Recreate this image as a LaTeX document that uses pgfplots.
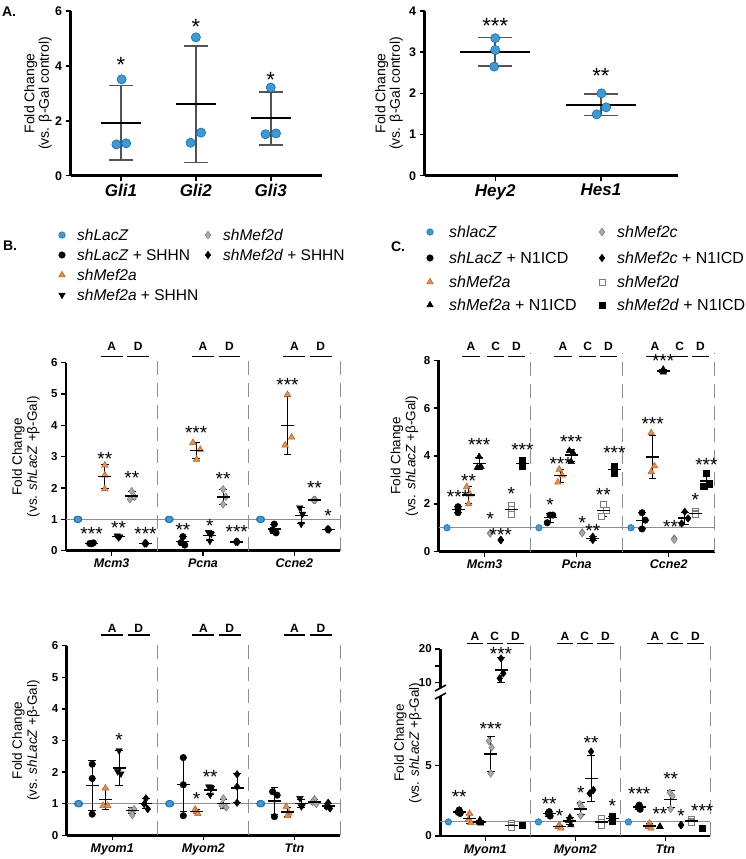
\documentclass[border=0pt]{standalone}
\usepackage{pgfplots}
\pgfplotsset{compat=1.18}
\usepackage{fontspec}
\setmainfont{Liberation Sans}

\definecolor{cblue}{HTML}{3A9BDA}
\definecolor{cblueE}{HTML}{1E6BA6}
\definecolor{corange}{HTML}{EE8B47}
\definecolor{corangeE}{HTML}{B5601F}
\definecolor{cgray}{HTML}{A9A9A9}
\definecolor{cgrayE}{HTML}{7B7B7B}
\definecolor{cref}{HTML}{8E8E8E}

\newcommand\ftick{\fontsize{11.5}{12}\selectfont\bfseries}
\newcommand\ftickA{\fontsize{12.5}{13}\selectfont\bfseries}
\newcommand\fgene{\fontsize{12.5}{13}\selectfont\bfseries\itshape}
\newcommand\fgeneA{\fontsize{17}{17}\selectfont\bfseries\itshape}
\newcommand\flab{\fontsize{13.5}{15}\selectfont}
\newcommand\flabA{\fontsize{14}{14.5}\selectfont}
\newcommand\fstar{\fontsize{19}{19}\selectfont}
\newcommand\fstarA{\fontsize{22}{22}\selectfont}
\newcommand\flet{\fontsize{12}{12}\selectfont\bfseries}

\tikzset{sepline/.style={cref, line width=1pt, dash pattern=on 14pt off 8pt}}

\pgfplotsset{
  panel/.style={scale only axis, clip=false,
    axis x line=bottom, axis y line=left,
    axis line style={-, line width=2.6pt},
    tick style={black, line width=1.5pt},
    major tick length=5pt, tick align=outside,
    /pgf/number format/assume math mode=true,
    yticklabel style={font=\ftick},
    xticklabel style={font=\fgene},
    ylabel style={font=\flab, align=center, anchor=center},
    xmin=0.5, xmax=3.5, xtick={1,2,3}},
  ptBlue/.style={only marks, mark=*, mark size=3.3pt, mark options={fill=cblue, draw=cblueE, line width=0.5pt}},
  ptBlack/.style={only marks, mark=*, mark size=3.3pt, mark options={fill=black, draw=black}},
  ptOrange/.style={only marks, mark=triangle*, mark size=3.8pt, mark options={fill=corange, draw=corangeE, line width=0.5pt}},
  ptTri/.style={only marks, mark=triangle*, mark size=3.8pt, mark options={fill=black, draw=black}},
  ptInv/.style={only marks, mark=triangle*, mark size=3.8pt, mark options={fill=black, draw=black, rotate=180}},
  ptGray/.style={only marks, mark=diamond*, mark size=3.8pt, mark options={fill=cgray, draw=cgrayE, line width=0.5pt}},
  ptDia/.style={only marks, mark=diamond*, mark size=3.8pt, mark options={fill=black, draw=black}},
  ptOpen/.style={only marks, mark=square*, mark size=3.1pt, mark options={fill=white, draw=cgrayE, line width=0.8pt}},
  ptSq/.style={only marks, mark=square*, mark size=3.1pt, mark options={fill=black, draw=black}},
  msd/.style={only marks, mark=-, mark size=6.5pt, mark options={line width=1.4pt, black},
    error bars/y dir=both, error bars/y explicit,
    error bars/error bar style={line width=0.9pt, black},
    error bars/error mark options={rotate=90, mark size=3.8pt, line width=0.9pt, black}},
  stars/.style={draw=none, mark=none, nodes near coords, point meta=explicit symbolic,
    nodes near coords style={font=\fstar, anchor=center, inner sep=0pt, yshift=-0.2em}},
  refline/.style={cref, line width=0.9pt},
}

\begin{document}
\begin{tikzpicture}
\path[use as bounding box] (0pt,0pt) rectangle (745pt,-859pt);

% ---------- A left ----------
\begin{axis}[panel, at={(70.7pt,-175.7pt)}, anchor=south west, width=251pt, height=164.7pt,
  xmin=0.33, xmax=3.68, ymin=0, ymax=6, ytick={0,2,4,6},
  xticklabels={Gli1,Gli2,Gli3},
  yticklabel style={font=\ftickA}, xticklabel style={font=\fgeneA},
  ylabel={Fold Change\\(vs. β-Gal control)},
  ylabel style={font=\flabA, at={(axis description cs:-0.13,0.5)}}]
\addplot[only marks, mark=-, mark size=20pt, mark options={line width=2pt, black},
  error bars/y dir=both, error bars/y explicit,
  error bars/error bar style={line width=1.6pt, gray!65!black},
  error bars/error mark options={rotate=90, mark size=12pt, line width=1.6pt, gray!65!black}]
  coordinates {(1,1.93) +- (0,1.36) (2,2.6) +- (0,2.12) (3,2.09) +- (0,0.97)};
\addplot[only marks, mark=*, mark size=4.6pt, mark options={fill=cblue, draw=cblueE, line width=0.6pt}]
  coordinates {(0.94,1.14) (1.07,1.18) (1.01,3.51) (1.93,1.2) (2.07,1.57) (2.0,5.04) (2.93,1.51) (3.07,1.54) (3.0,3.21)};
\addplot[stars, nodes near coords style={font=\fstarA}] coordinates {(1,4.1)[*] (2,5.49)[*] (3,3.57)[*]};
\end{axis}

% ---------- A right ----------
\begin{axis}[panel, at={(424.7pt,-175.7pt)}, anchor=south west, width=253.3pt, height=164.7pt,
  xmin=0.332, xmax=2.73, ymin=0, ymax=4, ytick={0,1,2,3,4}, xtick={1,2},
  xticklabels={Hey2,Hes1},
  yticklabel style={font=\ftickA}, xticklabel style={font=\fgeneA},
  ylabel={Fold Change\\(vs. β-Gal control)},
  ylabel style={font=\flabA, at={(axis description cs:-0.141,0.5)}}]
\addplot[only marks, mark=-, mark size=35pt, mark options={line width=2pt, black},
  error bars/y dir=both, error bars/y explicit,
  error bars/error bar style={line width=1.6pt, gray!65!black},
  error bars/error mark options={rotate=90, mark size=17pt, line width=1.6pt, gray!65!black}]
  coordinates {(1,3.01) +- (0,0.345) (2,1.72) +- (0,0.26)};
\addplot[only marks, mark=*, mark size=4.6pt, mark options={fill=cblue, draw=cblueE, line width=0.6pt}]
  coordinates {(1,3.34) (1,3.05) (0.99,2.65) (2.005,2.0) (2.05,1.66) (1.96,1.49)};
\addplot[stars, nodes near coords style={font=\fstarA}] coordinates {(1,3.68)[***] (2,2.47)[**]};
\end{axis}

% ---------- B top ----------
\begin{axis}[panel, at={(66pt,-550.7pt)}, anchor=south west, width=274pt, height=188pt,
  ymin=0, ymax=6, ytick={0,...,6}, xticklabels={Mcm3,Pcna,Ccne2},
  ylabel={Fold Change\\(vs. \textit{shLacZ} +β-Gal)},
  ylabel style={at={(axis description cs:-0.146,0.5)}}]
\pgfplotsinvokeforeach{1.5,2.5,3.5}{\draw[sepline] (axis cs:#1,0) -- (axis cs:#1,6.3);}
\pgfplotsinvokeforeach{1,2,3}{
  \node[font=\flet] at (axis cs:#1,6.51) {A};
  \node[font=\flet] at (axis cs:#1+0.29,6.51) {D};
  \draw[line width=1.3pt] (axis cs:#1-0.12,6.19) -- (axis cs:#1+0.12,6.19);
  \draw[line width=1.3pt] (axis cs:#1+0.17,6.19) -- (axis cs:#1+0.41,6.19);}
\addplot[refline] coordinates {(0.5,1) (3.5,1)};
\addplot[ptBlue] coordinates {(0.62,1) (0.64,1) (0.63,1) (1.62,1) (1.64,1) (1.63,1) (2.62,1) (2.64,1) (2.63,1)};
\addplot[ptBlack] coordinates {(0.76,0.23) (0.8,0.25) (0.78,0.22) (1.78,0.45) (1.76,0.26) (1.8,0.18) (2.78,0.85) (2.76,0.66) (2.8,0.57)};
\addplot[ptOrange] coordinates {(0.925,2.73) (0.925,2.41) (0.925,1.97) (1.89,3.45) (1.97,3.23) (1.93,2.91) (2.925,4.98) (2.97,3.62) (2.9,3.37)};
\addplot[ptInv] coordinates {(1.06,0.48) (1.09,0.45) (1.075,0.42) (2.06,0.59) (2.09,0.53) (2.075,0.31) (3.06,1.37) (3.09,1.17) (3.075,0.85)};
\addplot[ptGray] coordinates {(1.22,1.9) (1.2,1.64) (1.25,1.72) (2.22,1.96) (2.25,1.72) (2.22,1.48) (3.21,1.62) (3.23,1.62) (3.22,1.62)};
\addplot[ptDia] coordinates {(1.36,0.23) (1.38,0.23) (1.37,0.24) (2.36,0.28) (2.38,0.28) (2.37,0.29) (3.36,0.68) (3.38,0.67) (3.37,0.69)};
\addplot[msd] coordinates {(0.78,0.23) +- (0,0.02) (1.78,0.3) +- (0,0.14) (2.78,0.69) +- (0,0.14)
  (0.925,2.37) +- (0,0.38) (1.925,3.2) +- (0,0.27) (2.925,3.99) +- (0,0.93)
  (1.075,0.45) +- (0,0.03) (2.075,0.48) +- (0,0.15) (3.075,1.13) +- (0,0.26)
  (1.22,1.75) +- (0,0.13) (2.22,1.72) +- (0,0.24) (3.22,1.62) +- (0,0.02)
  (1.37,0.23) +- (0,0.01) (2.37,0.28) +- (0,0.01) (3.37,0.68) +- (0,0.01)};
\addplot[stars] coordinates {(0.78,0.6)[***] (0.925,3.0)[**] (1.075,0.8)[**] (1.22,2.39)[**] (1.37,0.6)[***]
  (1.78,0.74)[**] (1.925,3.82)[***] (2.075,0.85)[*] (2.22,2.34)[**] (2.37,0.66)[***]
  (2.925,5.34)[***] (3.22,2.06)[**] (3.37,1.17)[*]};
\end{axis}

% ---------- B bottom ----------
\begin{axis}[panel, at={(66.7pt,-835.3pt)}, anchor=south west, width=273.3pt, height=189.6pt,
  ymin=0, ymax=6, ytick={0,...,6}, xticklabels={Myom1,Myom2,Ttn},
  ylabel={Fold Change\\(vs. \textit{shLacZ} +β-Gal)},
  ylabel style={at={(axis description cs:-0.149,0.5)}}]
\pgfplotsinvokeforeach{1.5,2.5,3.5}{\draw[sepline] (axis cs:#1,0) -- (axis cs:#1,6.2);}
\pgfplotsinvokeforeach{1,2,3}{
  \node[font=\flet] at (axis cs:#1,6.55) {A};
  \node[font=\flet] at (axis cs:#1+0.29,6.55) {D};
  \draw[line width=1.3pt] (axis cs:#1-0.12,6.34) -- (axis cs:#1+0.12,6.34);
  \draw[line width=1.3pt] (axis cs:#1+0.17,6.34) -- (axis cs:#1+0.41,6.34);}
\addplot[refline] coordinates {(0.5,1) (3.5,1)};
\addplot[ptBlue] coordinates {(0.62,1) (0.64,1) (0.63,1) (1.62,1) (1.64,1) (1.63,1) (2.62,1) (2.64,1) (2.63,1)};
\addplot[ptBlack] coordinates {(0.78,2.25) (0.78,1.8) (0.78,0.67) (1.78,2.46) (1.78,1.6) (1.78,0.62) (2.76,1.38) (2.81,1.27) (2.78,0.59)};
\addplot[ptOrange] coordinates {(0.925,1.49) (0.9,0.94) (0.95,0.94) (1.91,0.82) (1.925,0.75) (1.94,0.68) (2.91,0.91) (2.94,0.7) (2.925,0.62)};
\addplot[ptInv] coordinates {(1.075,2.68) (1.06,2.02) (1.095,1.95) (2.06,1.54) (2.09,1.5) (2.075,1.28) (3.06,1.17) (3.09,0.96) (3.075,0.91)};
\addplot[ptGray] coordinates {(1.24,0.83) (1.2,0.78) (1.22,0.64) (2.22,1.17) (2.2,0.96) (2.25,0.88) (3.22,1.14) (3.2,1.06) (3.24,0.99)};
\addplot[ptDia] coordinates {(1.37,1.17) (1.35,0.99) (1.39,0.83) (2.37,1.93) (2.37,1.54) (2.37,1.03) (3.37,1.03) (3.35,0.91) (3.39,0.85)};
\addplot[msd] coordinates {(0.78,1.57) +- (0,0.79) (1.78,1.6) +- (0,0.86) (2.78,1.08) +- (0,0.43)
  (0.925,1.13) +- (0,0.32) (1.925,0.75) +- (0,0.07) (2.925,0.74) +- (0,0.15)
  (1.075,2.13) +- (0,0.55) (2.075,1.44) +- (0,0.14) (3.075,1.01) +- (0,0.14)
  (1.22,0.78) +- (0,0.1) (2.22,1.0) +- (0,0.15) (3.22,1.06) +- (0,0.08)
  (1.37,1.01) +- (0,0.17) (2.37,1.5) +- (0,0.45) (3.37,0.93) +- (0,0.09)};
\addplot[stars] coordinates {(1.075,3.07)[*] (1.925,1.22)[*] (2.075,1.9)[**]};
\end{axis}

% ---------- C top ----------
\begin{axis}[panel, at={(438.7pt,-551.7pt)}, anchor=south west, width=276pt, height=191.4pt,
  ymin=0, ymax=8, ytick={0,2,4,6,8}, xticklabels={Mcm3,Pcna,Ccne2},
  ylabel={Fold Change\\(vs. \textit{shLacZ} +β-Gal)},
  ylabel style={at={(axis description cs:-0.124,0.5)}}]
\pgfplotsinvokeforeach{1.5,2.5,3.5}{\draw[sepline] (axis cs:#1,0) -- (axis cs:#1,8.3);}
\pgfplotsinvokeforeach{1,2,3}{
  \node[font=\flet] at (axis cs:#1-0.15,8.57) {A};
  \node[font=\flet] at (axis cs:#1+0.12,8.57) {C};
  \node[font=\flet] at (axis cs:#1+0.345,8.57) {D};
  \draw[line width=1.3pt] (axis cs:#1-0.245,8.15) -- (axis cs:#1-0.055,8.15);
  \draw[line width=1.3pt] (axis cs:#1+0.025,8.15) -- (axis cs:#1+0.215,8.15);
  \draw[line width=1.3pt] (axis cs:#1+0.25,8.15) -- (axis cs:#1+0.44,8.15);}
\addplot[refline] coordinates {(0.5,1) (3.5,1)};
\addplot[ptBlue] coordinates {(0.59,1) (1.59,1) (2.59,1)};
\addplot[ptBlack] coordinates {(0.71,1.88) (0.71,1.78) (0.71,1.63) (1.68,1.21) (1.71,1.53) (1.74,1.53) (2.71,1.63) (2.71,0.95) (2.745,1.32)};
\addplot[ptOrange] coordinates {(0.805,2.72) (0.84,2.4) (0.825,1.99) (1.81,3.44) (1.84,3.2) (1.795,2.9) (2.81,4.97) (2.81,3.34) (2.845,3.58)};
\addplot[ptTri] coordinates {(0.94,3.97) (0.92,3.52) (0.96,3.55) (1.92,4.22) (1.96,4.14) (1.94,3.76) (2.94,7.62) (2.94,7.55) (2.94,7.5)};
\addplot[ptGray] coordinates {(1.06,0.77) (1.06,0.78) (1.06,0.76) (2.06,0.79) (2.06,0.8) (2.06,0.78) (3.06,0.55) (3.06,0.53) (3.06,0.5)};
\addplot[ptDia] coordinates {(1.175,0.49) (1.175,0.48) (1.175,0.5) (2.175,0.63) (2.175,0.55) (2.175,0.49) (3.14,1.18) (3.175,1.67) (3.21,1.39)};
\addplot[ptOpen] coordinates {(1.29,1.95) (1.29,1.77) (1.29,1.57) (2.27,1.49) (2.29,1.99) (2.32,1.71) (3.29,1.66) (3.29,1.6) (3.29,1.55)};
\addplot[ptSq] coordinates {(1.41,3.8) (1.41,3.69) (1.41,3.58) (2.41,3.58) (2.41,3.44) (2.41,3.3) (3.41,3.27) (3.38,2.74) (3.44,2.83)};
\addplot[msd] coordinates {(0.71,1.76) +- (0,0.13) (1.71,1.42) +- (0,0.18) (2.71,1.3) +- (0,0.34)
  (0.825,2.37) +- (0,0.37) (1.825,3.18) +- (0,0.27) (2.825,3.96) +- (0,0.88)
  (0.94,3.68) +- (0,0.25) (1.94,4.04) +- (0,0.25) (2.94,7.56) +- (0,0.06)
  (2.175,0.56) +- (0,0.07) (3.175,1.41) +- (0,0.25)
  (1.29,1.76) +- (0,0.19) (2.29,1.73) +- (0,0.25) (3.29,1.6) +- (0,0.05)
  (1.41,3.69) +- (0,0.11) (2.41,3.44) +- (0,0.14) (3.41,2.95) +- (0,0.28)};
\addplot[stars] coordinates {(0.71,2.37)[***] (0.825,3.06)[**] (0.94,4.53)[***] (1.06,1.46)[*] (1.175,0.8)[***] (1.29,2.5)[*] (1.41,4.32)[***]
  (1.71,2.02)[*] (1.825,3.76)[***] (1.94,4.69)[***] (2.06,1.3)[*] (2.175,0.97)[**] (2.29,2.47)[**] (2.41,4.22)[***]
  (2.825,5.43)[***] (2.94,8.05)[***] (3.06,1.12)[***] (3.29,2.23)[*] (3.41,3.69)[***]};
\end{axis}

% ---------- C bottom, lower part ----------
\begin{axis}[panel, at={(440.3pt,-836pt)}, anchor=south west, width=270pt, height=140pt,
  ymin=0, ymax=9.95, ytick={0,5}, xticklabels={Myom1,Myom2,Ttn},
  ylabel={Fold Change\\(vs. \textit{shLacZ} +β-Gal)},
  ylabel style={at={(axis description cs:-0.12,0.664)}}]
\pgfplotsinvokeforeach{1.5,2.5,3.5}{\draw[sepline] (axis cs:#1,0) -- (axis cs:#1,13.5);}
\addplot[refline] coordinates {(0.5,1) (3.5,1)};
\addplot[ptBlue] coordinates {(0.59,1) (1.59,1) (2.59,1)};
\addplot[ptBlack] coordinates {(0.71,1.85) (0.7,1.68) (0.72,1.6) (1.71,1.73) (1.7,1.6) (1.72,1.42) (2.71,2.2) (2.7,2.04) (2.72,1.9)};
\addplot[ptOrange] coordinates {(0.825,1.6) (0.81,1.14) (0.84,0.95) (1.825,0.78) (1.81,0.66) (1.84,0.55) (2.825,0.9) (2.81,0.66) (2.84,0.55)};
\addplot[ptTri] coordinates {(0.94,1.14) (0.93,0.97) (0.95,0.9) (1.94,1.33) (1.93,1.09) (1.95,0.78) (2.94,0.66) (2.94,0.67) (2.94,0.65)};
\addplot[ptGray] coordinates {(1.04,6.75) (1.07,6.3) (1.06,4.45) (2.05,2.27) (2.07,2.08) (2.06,1.45) (3.05,3.08) (3.08,2.84) (3.06,1.92)};
\addplot[ptDia] coordinates {(2.175,6.0) (2.16,3.03) (2.2,3.27) (3.175,0.78) (3.175,0.79) (3.175,0.77)};
\addplot[ptOpen] coordinates {(1.29,0.9) (1.29,0.75) (1.29,0.6) (2.29,1.26) (2.29,0.95) (2.29,0.78) (3.29,1.18) (3.29,1.06) (3.29,0.95)};
\addplot[ptSq] coordinates {(1.41,0.78) (1.41,0.79) (1.41,0.77) (2.41,1.42) (2.41,1.26) (2.41,1.09) (3.41,0.55) (3.41,0.56) (3.41,0.54)};
\addplot[msd] coordinates {(0.71,1.71) +- (0,0.13) (1.71,1.58) +- (0,0.16) (2.71,2.05) +- (0,0.15)
  (0.825,1.23) +- (0,0.33) (1.825,0.66) +- (0,0.12) (2.825,0.7) +- (0,0.18)
  (0.94,1.0) +- (0,0.12) (1.94,1.07) +- (0,0.28)
  (1.06,5.83) +- (0,1.22) (2.06,1.93) +- (0,0.43) (3.06,2.61) +- (0,0.61)
  (2.175,4.1) +- (0,1.65)
  (1.29,0.75) +- (0,0.15) (2.29,1.0) +- (0,0.24) (3.29,1.06) +- (0,0.12)
  (2.41,1.26) +- (0,0.16)};
\addplot[stars] coordinates {(0.71,2.9)[**] (1.06,7.72)[***] (1.71,2.44)[**] (1.825,1.6)[*] (2.06,3.2)[*] (2.175,6.75)[**] (2.41,2.25)[*]
  (2.71,3.15)[***] (2.94,1.68)[**] (3.06,4.17)[**] (3.175,1.56)[*] (3.41,1.9)[***]};
\end{axis}

% ---------- C bottom, upper part ----------
\begin{axis}[panel, at={(440.3pt,-688.4pt)}, anchor=south west, width=270pt, height=39.4pt,
  axis x line=none, xtick=\empty,
  ymin=8.3, ymax=20, ytick={10,15,20}, yticklabels={10,,20}]
\pgfplotsinvokeforeach{1,2,3}{
  \node[font=\flet] at (axis cs:#1-0.115,23.65) {A};
  \node[font=\flet] at (axis cs:#1+0.105,23.65) {C};
  \node[font=\flet] at (axis cs:#1+0.335,23.65) {D};
  \draw[line width=1.3pt] (axis cs:#1-0.205,21.7) -- (axis cs:#1-0.025,21.7);
  \draw[line width=1.3pt] (axis cs:#1+0.015,21.7) -- (axis cs:#1+0.195,21.7);
  \draw[line width=1.3pt] (axis cs:#1+0.245,21.7) -- (axis cs:#1+0.425,21.7);}
\addplot[ptDia] coordinates {(1.175,17.2) (1.16,11.3) (1.2,12.8)};
\addplot[msd] coordinates {(1.175,13.8) +- (0,3.7)};
\addplot[stars] coordinates {(1.175,19.2)[***]};
\end{axis}

% ---------- legends, panel letters, axis break ----------
\begin{axis}[hide axis, scale only axis, at={(0pt,-859pt)}, anchor=south west, width=745pt, height=859pt,
  xmin=0, xmax=745, ymin=0, ymax=859, y dir=reverse, clip=false]
\addplot[ptBlue] coordinates {(62,235) (430,232)};
\addplot[ptBlack] coordinates {(62,255) (430,258)};
\addplot[ptOrange] coordinates {(62,275) (430,282)};
\addplot[ptInv] coordinates {(62,295)};
\addplot[ptGray] coordinates {(208,235) (602,232)};
\addplot[ptDia] coordinates {(208,255) (602,258)};
\addplot[ptTri] coordinates {(430,305)};
\addplot[ptOpen] coordinates {(602,282)};
\addplot[ptSq] coordinates {(602,305)};
\addplot[draw=none, mark=none, nodes near coords, point meta=explicit symbolic,
  nodes near coords style={font=\fontsize{15.5}{16}\selectfont, anchor=west, inner sep=0pt}]
  coordinates {(77,235)[\textit{shLacZ}] (77,255)[\textit{shLacZ} + SHHN] (77,275)[\textit{shMef2a}] (77,295)[\textit{shMef2a} + SHHN]
  (223,235)[\textit{shMef2d}] (223,255)[\textit{shMef2d} + SHHN]};
\addplot[draw=none, mark=none, nodes near coords, point meta=explicit symbolic,
  nodes near coords style={font=\fontsize{16}{16}\selectfont, anchor=west, inner sep=0pt}]
  coordinates {(449,232)[\textit{shlacZ}] (449,258)[\textit{shLacZ} + N1ICD] (449,282)[\textit{shMef2a}] (449,305)[\textit{shMef2a} + N1ICD]
  (617,232)[\textit{shMef2c}] (617,258)[\textit{shMef2c} + N1ICD] (617,282)[\textit{shMef2d}] (617,305)[\textit{shMef2d} + N1ICD]};
\addplot[draw=none, mark=none, nodes near coords, point meta=explicit symbolic,
  nodes near coords style={font=\fontsize{14}{14}\selectfont\bfseries, anchor=center, inner sep=0pt}]
  coordinates {(9,12)[A.] (10,246)[B.] (398,247)[C.]};
\addplot[black, line width=1.6pt] coordinates {(435,691) (446,685)};
\addplot[black, line width=1.6pt] coordinates {(435,699) (446,693)};
\end{axis}
\end{tikzpicture}
\end{document}
